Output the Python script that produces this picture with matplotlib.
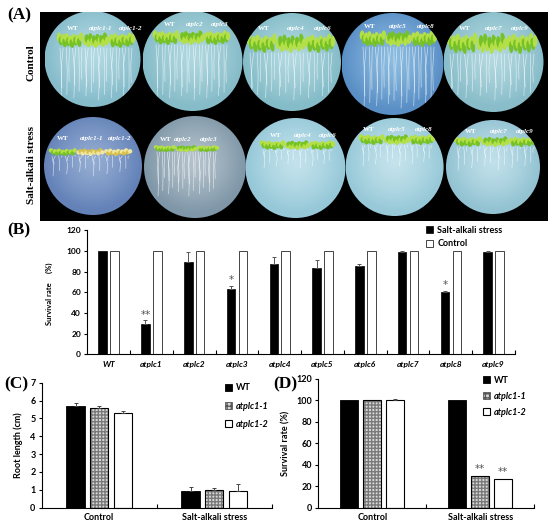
import numpy as np
import matplotlib
matplotlib.use('Agg')
import matplotlib.pyplot as plt
from matplotlib.patches import Circle, Rectangle, Ellipse, Patch

# ---------------- data ----------------
# Panel A (photo panel) plate labels
row_names = ['Control', 'Salt-alkali stress']
plate_labels = [['WT', 'atplc1-1', 'atplc1-2'],
                ['WT', 'atplc2', 'atplc3'],
                ['WT', 'atplc4', 'atplc6'],
                ['WT', 'atplc5', 'atplc8'],
                ['WT', 'atplc7', 'atplc9']]

# Panel B
genotypes = ['WT', 'atplc1', 'atplc2', 'atplc3', 'atplc4',
             'atplc5', 'atplc6', 'atplc7', 'atplc8', 'atplc9']
salt_surv = [100, 29.5, 89, 63, 87.5, 84, 85.5, 98.7, 60.6, 99.3]
salt_err = [0, 3.5, 9.7, 3.2, 6.8, 7.0, 2.2, 1.5, 1.0, 0.7]
ctrl_surv = [100, 100, 100, 100, 100, 100, 100, 100, 100, 100]
stars_B = ['', '**', '', '*', '', '', '', '', '*', '']
legend_B = ['Salt-alkali stress', 'Control']

# Panels C and D
conditions = ['Control', 'Salt-alkali stress']
lines = ['WT', 'atplc1-1', 'atplc1-2']
root_len = [[5.70, 0.96], [5.61, 0.99], [5.30, 0.93]]
root_err = [[0.15, 0.22], [0.08, 0.13], [0.12, 0.40]]
surv_D = [[100, 100], [100, 29.8], [100, 27.0]]
surv_D_err = [[0, 0], [0, 0], [0.6, 0]]
stars_D = [['', ''], ['', '**'], ['', '**']]

# ---------------- figure ----------------
W, H = 550, 527
fig = plt.figure(figsize=(5.5, 5.27), dpi=100)
fig.patch.set_facecolor('white')
SANS = 'Lato'
SERIF = 'Liberation Serif'


def add_ax(x0, y0, x1, y1):
    return fig.add_axes([x0 / W, 1 - y1 / H, (x1 - x0) / W, (y1 - y0) / H])


def ftext(x, y, s, **kw):
    fig.text(x / W, 1 - y / H, s, **kw)


# ---------------- Panel A (schematic of the plate photographs) ----------------
axA = add_ax(40, 12, 548, 221)
axA.set_xlim(40, 548)
axA.set_ylim(221, 12)
axA.axis('off')
axA.add_patch(Rectangle((40, 12), 508, 209, color='black', zorder=0))

plates = [  # (cx, cy, r, base colour, light colour)
    [(92.5, 59, 48, '#86bccb', '#b3dae3'), (192.5, 61, 50, '#86bcc8', '#b0d8e0'),
     (292, 62, 49, '#84bcc8', '#b2d9e1'), (392.5, 64, 51, '#5a8fc6', '#8cbce0'),
     (493.5, 62, 50, '#88bdc9', '#b4d9e1')],
    [(93, 166, 49, '#6482b8', '#93acd2'), (195, 167, 51, '#7f97a8', '#b4c2cc'),
     (295.5, 168, 50, '#96c8d8', '#c2e2ec'), (394.6, 167, 49, '#98c9d8', '#c4e3ec'),
     (493, 167, 47, '#93c3d2', '#c0e0ea')]]
band = [[(57, 135, 32, 48), (153, 230, 30, 45), (247, 335, 33, 53), (360, 437, 30, 47), (447, 537, 32, 54)],
        [(49, 132, 148, 156), (154, 219, 145, 152), (260, 335, 140, 150), (359, 435, 134, 145), (454, 537, 136, 147)]]
label_pos = [[(73, 101, 131, 28), (170, 195, 220, 24), (264, 296, 323, 28), (370, 398, 426, 26), (465, 494, 520, 28)],
             [(63, 92, 120, 138), (166, 183, 209, 139), (276, 303, 328, 135.6), (369, 397, 424, 129), (471, 499, 525, 131)]]
root_end = [[100, 100, 100, 108, 100], [176, 196, 168, 166, 170]]

yy, xx = np.mgrid[-1:1:120j, -1:1:120j]
rr = np.clip(np.sqrt(xx ** 2 + (yy + 0.1) ** 2), 0, 1)
pattern = np.array([0.0, 0.55, 0.25, 0.85, 0.1, 0.7, 0.4, 0.95, 0.2, 0.6, 0.35, 0.8])
for ri in range(2):
    for pi in range(5):
        cx, cy, r, base, light = plates[ri][pi]
        c0 = np.array(matplotlib.colors.to_rgb(light))
        c1 = np.array(matplotlib.colors.to_rgb(base))
        wgt = rr[..., None] ** 1.3
        img = c0[None, None, :] * (1 - wgt) + c1[None, None, :] * wgt
        circ = Circle((cx, cy), r, transform=axA.transData, facecolor='none', edgecolor='none')
        axA.add_patch(circ)
        im = axA.imshow(img, extent=(cx - r, cx + r, cy + r, cy - r), zorder=1, interpolation='bilinear')
        im.set_clip_path(circ)
        # roots
        x0, x1, y0, y1 = band[ri][pi]
        nroot = 24
        for k, xr in enumerate(np.linspace(x0 + 3, x1 - 3, nroot)):
            yend = root_end[ri][pi] - 22 * pattern[k % len(pattern)]
            ym = (y1 + yend) / 2
            dx = 5 * (pattern[(k + 3) % 12] - 0.5)
            ln, = axA.plot([xr, xr + dx, xr + 0.6 * dx], [y1, ym, yend],
                           color='white', lw=0.45, alpha=0.7, zorder=2)
            ln.set_clip_path(circ)
        # seedlings
        sec = (x1 - x0) / 3.0
        for s in range(3):
            col_a, col_b = '#76c226', '#b4e046'
            if ri == 1 and pi == 0 and s > 0:
                col_a, col_b = '#d8c048', '#f0e6a0'
            nleaf = 13
            for k, xl in enumerate(np.linspace(x0 + s * sec + 2, x0 + (s + 1) * sec - 2, nleaf)):
                yl = y0 + (y1 - y0) * (0.3 + 0.45 * pattern[(k + s) % 12])
                e = Ellipse((xl, yl), 4.5, (y1 - y0) * 0.55, angle=20 * (pattern[(k + 5) % 12] - 0.5),
                            facecolor=col_a if k % 2 else col_b, edgecolor='none', zorder=3)
                axA.add_patch(e)
                e.set_clip_path(circ)
        # labels
        for s in range(3):
            lx = label_pos[ri][pi][s]
            ly = label_pos[ri][pi][3]
            axA.text(lx, ly, plate_labels[pi][s], color='white', fontsize=5, family=SERIF,
                     fontweight='bold', style='normal' if s == 0 else 'italic',
                     ha='center', va='center', zorder=4)

ftext(19.5, 15, '(A)', fontsize=12.5, family=SERIF, fontweight='bold', ha='center', va='center')
ftext(31.5, 63, row_names[0], fontsize=8, family=SERIF, fontweight='bold', rotation=90, ha='center', va='center')
ftext(31.5, 165, row_names[1], fontsize=8, family=SERIF, fontweight='bold', rotation=90, ha='center', va='center')


# ---------------- helpers for bar panels ----------------
def style_axis(ax, fs):
    for sp in ['top', 'right']:
        ax.spines[sp].set_visible(False)
    for sp in ['left', 'bottom']:
        ax.spines[sp].set_linewidth(0.8)
    ax.tick_params(axis='y', direction='out', length=2.5, width=0.8, labelsize=fs, pad=2)
    ax.tick_params(axis='x', which='major', length=0, labelsize=fs)
    ax.tick_params(axis='x', which='minor', direction='in', length=3, width=0.8)
    for lab in ax.get_yticklabels():
        lab.set_fontweight('bold')
        lab.set_family(SANS)


# ---------------- Panel B ----------------
axB = add_ax(87.3, 230.3, 515, 354.3)
n = len(genotypes)
xb = np.arange(n)
axB.bar(xb - 0.14, salt_surv, 0.2, color='black', edgecolor='black', lw=0.5, zorder=2)
err_idx = [i for i in range(n) if salt_err[i] > 0]
axB.errorbar(xb[err_idx] - 0.14, np.array(salt_surv)[err_idx],
             yerr=[np.zeros(len(err_idx)), np.array(salt_err)[err_idx]],
             fmt='none', ecolor='#555555', elinewidth=0.7, capsize=1.5, capthick=0.7, zorder=3)
axB.bar(xb + 0.14, ctrl_surv, 0.2, color='white', edgecolor='#444444', lw=0.7, zorder=2)
for i in range(n):
    if stars_B[i]:
        axB.text(xb[i] - 0.14, salt_surv[i] + salt_err[i] + 0.5, stars_B[i], ha='center', va='bottom',
                 fontsize=7.5, color='#555555', family='DejaVu Sans')
axB.set_xlim(-0.5, n - 0.5)
axB.set_ylim(0, 120)
axB.set_yticks(np.arange(0, 121, 20))
axB.set_xticks(xb)
axB.set_xticklabels(genotypes, fontsize=5.5, family=SANS, fontweight='bold', style='italic')
axB.set_xticks(np.arange(0.5, n, 1.0), minor=True)
style_axis(axB, 6)
axB.tick_params(axis='x', which='major', pad=5)
ftext(49.5, 294, 'Survival rate     (%)', fontsize=5.5, family=SANS, fontweight='bold', rotation=90,
      ha='center', va='center')
ftext(19, 230, '(B)', fontsize=12.5, family=SERIF, fontweight='bold', ha='center', va='center')
hB = [Patch(facecolor='black', edgecolor='black', lw=0.5),
      Patch(facecolor='white', edgecolor='#444444', lw=0.7)]
axB.legend(hB, legend_B, loc='upper left', bbox_to_anchor=(426 / W, 1 - 225.5 / H),
           bbox_transform=fig.transFigure, frameon=False, borderpad=0, borderaxespad=0,
           handlelength=0.75, handleheight=0.75, handletextpad=0.5, labelspacing=0.55,
           prop={'family': SANS, 'weight': 'bold', 'size': 6.5})


# ---------------- Panels C and D ----------------
def grouped(ax, vals, errs, offs, width):
    xc = np.array([0.5, 1.5])
    for j in range(3):
        xs = xc + offs[j]
        v = np.array(vals[j], dtype=float)
        if j == 0:
            ax.bar(xs, v, width, color='black', edgecolor='black', lw=0.6, zorder=2)
        elif j == 1:
            ax.bar(xs, v, width, color='#d9d9d9', edgecolor='#7a7a7a', hatch='+++++', lw=0, zorder=2)
            ax.bar(xs, v, width, fill=False, edgecolor='black', lw=0.8, zorder=3)
        else:
            ax.bar(xs, v, width, color='white', edgecolor='black', lw=0.8, zorder=2)
        e = np.array(errs[j], dtype=float)
        m = e > 0
        if m.any():
            ax.errorbar(xs[m], v[m], yerr=[np.zeros(m.sum()), e[m]], fmt='none', ecolor='#444444',
                        elinewidth=0.7, capsize=1.5, capthick=0.7, zorder=4)
    ax.set_xlim(0, 2)
    ax.set_xticks(xc)
    ax.set_xticklabels(conditions, fontsize=6.5, family=SANS, fontweight='bold')
    ax.set_xticks([1.0, 2.0], minor=True)


def cd_legend(ax, x, ytop, spacing):
    h = [Patch(facecolor='black', edgecolor='black', lw=0.6),
         Patch(facecolor='#d9d9d9', edgecolor='#555555', hatch='++++', lw=0.6),
         Patch(facecolor='white', edgecolor='black', lw=0.8)]
    leg = ax.legend(h, lines, loc='upper left', bbox_to_anchor=(x / W, 1 - ytop / H),
                    bbox_transform=fig.transFigure, frameon=False, borderpad=0, borderaxespad=0,
                    handlelength=0.8, handleheight=0.8, handletextpad=0.45, labelspacing=spacing,
                    prop={'family': SANS, 'weight': 'bold', 'size': 6.5})
    for k, t in enumerate(leg.get_texts()):
        if k > 0:
            t.set_style('italic')


axC = add_ax(41.7, 382.7, 271.7, 507.7)
grouped(axC, root_len, root_err, [-0.205, 0.0, 0.205], 0.16)
axC.set_ylim(0, 7)
axC.set_yticks(range(0, 8))
style_axis(axC, 6.5)
axC.tick_params(axis='x', which='major', pad=4)
axC.set_ylabel('Root length (cm)', fontsize=6.5, family=SANS, fontweight='bold', labelpad=5)
cd_legend(axC, 224.5, 383.5, 1.0)
ftext(16, 384, '(C)', fontsize=12.5, family=SERIF, fontweight='bold', ha='center', va='center')

axD = add_ax(318.3, 378.5, 534.3, 507.7)
grouped(axD, surv_D, surv_D_err, [-0.213, 0.0, 0.213], 0.167)
xc = np.array([0.5, 1.5])
for j in range(3):
    for g in range(2):
        if stars_D[j][g]:
            axD.text(xc[g] + [-0.213, 0.0, 0.213][j], surv_D[j][g] + 1.5, stars_D[j][g], ha='center',
                     va='bottom', fontsize=7.5, color='#555555', family='DejaVu Sans')
axD.set_ylim(0, 120)
axD.set_yticks(np.arange(0, 121, 20))
style_axis(axD, 6.5)
axD.tick_params(axis='x', which='major', pad=4)
axD.set_ylabel('Survival rate (%)', fontsize=6.5, family=SANS, fontweight='bold', labelpad=4)
cd_legend(axD, 483, 376, 0.75)
ftext(285, 384, '(D)', fontsize=12.5, family=SERIF, fontweight='bold', ha='center', va='center')

fig.savefig('out.png', dpi=100, facecolor='white')
